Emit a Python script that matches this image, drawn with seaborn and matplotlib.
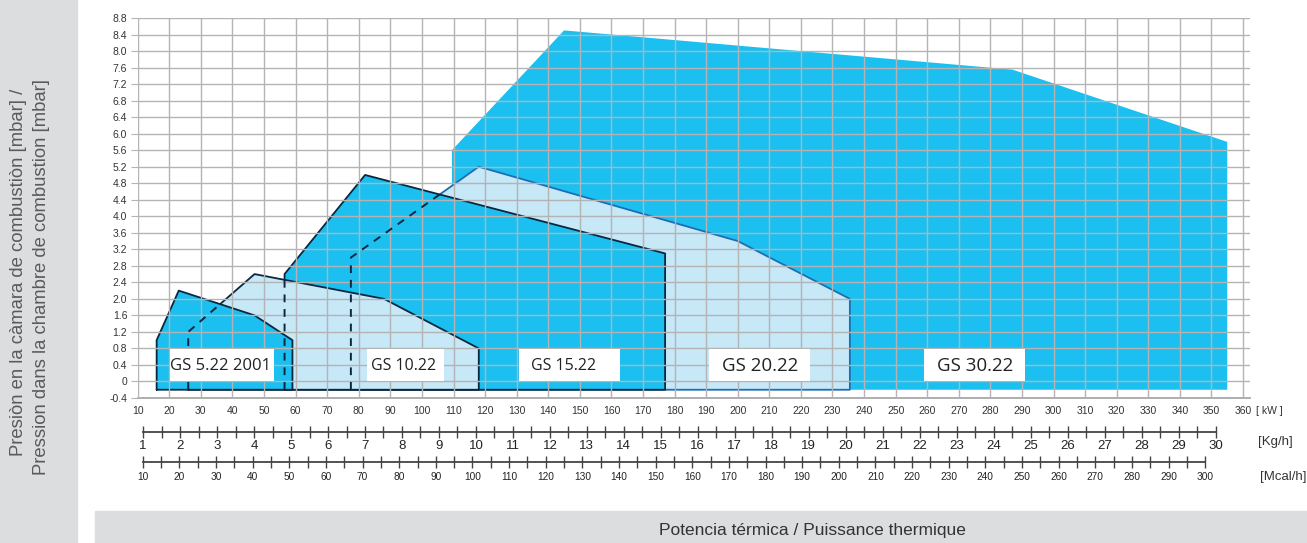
import numpy as np
import matplotlib
matplotlib.use("Agg")
import matplotlib.pyplot as plt
import seaborn as sns
from matplotlib.patches import Rectangle

# ---------------------------------------------------------
# data: working fields (kW vs mbar)
# ---------------------------------------------------------
gs30_kw = [109.5, 109.5, 145, 287, 355, 355]
gs30_mbar = [-0.2, 5.6, 8.5, 7.55, 5.8, -0.2]
gs20_kw = [77.5, 77.5, 118, 200, 235.5, 235.5]
gs20_mbar = [-0.2, 3.0, 5.2, 3.4, 2.0, -0.2]
gs15_kw = [56.5, 56.5, 82, 177, 177]
gs15_mbar = [-0.2, 2.6, 5.0, 3.1, -0.2]
gs10_kw = [26, 26, 47, 88, 118, 118]
gs10_mbar = [-0.2, 1.2, 2.6, 2.0, 0.8, -0.2]
gs5_kw = [16, 16, 23, 47, 59, 59]
gs5_mbar = [-0.2, 1.0, 2.2, 1.6, 1.0, -0.2]

labels = ["GS 30.22", "GS 20.22", "GS 15.22", "GS 10.22", "GS 5.22 2001"]

kw_ticks = list(range(10, 361, 10))
mbar_ticks = [round(v / 10, 1) for v in range(-4, 89, 4)]
kgh_ticks = list(range(1, 31))
mcal_ticks = list(range(10, 301, 10))

KW_PER_KGH = 11.71
KW_PER_MCAL = 1.16

# ---------------------------------------------------------
# style
# ---------------------------------------------------------
sns.set_style("white")
plt.rcParams['font.family'] = ['Liberation Sans', 'DejaVu Sans']

DARK = '#1bc0f0'
LIGHT = '#c6e8f7'
NAVY = '#0b2740'
BLUE = '#1d6db3'
GRID = '#b4b4b4'
PANEL = '#dcdddf'

W, H = 1307, 543
fig = plt.figure(figsize=(W / 100, H / 100), dpi=100)


def fx(px):
    return px / W


def fy(py):
    return 1 - py / H


# grey panels
fig.add_artist(Rectangle((0, 0), fx(77), 1, transform=fig.transFigure,
                         color=PANEL, zorder=0))
fig.add_artist(Rectangle((fx(95), 0), 1 - fx(95), 32 / H,
                         transform=fig.transFigure, color=PANEL, zorder=0))

x_left, x_right = 137.7, 1250
y_top, y_bot = 18, 398
xlim = (10, 362.2)
ax = fig.add_axes([fx(x_left), fy(y_bot), fx(x_right - x_left),
                   (y_bot - y_top) / H])

# --- polygons, bottom to top ---
layers = [
    (gs30_kw, gs30_mbar, DARK, None),
    (gs20_kw, gs20_mbar, LIGHT, BLUE),
    (gs15_kw, gs15_mbar, DARK, NAVY),
    (gs10_kw, gs10_mbar, LIGHT, NAVY),
    (gs5_kw, gs5_mbar, DARK, NAVY),
]
polys = []
for i, (xs, ys, fc, ec) in enumerate(layers):
    p = ax.fill(xs, ys, color=fc, lw=0, zorder=1 + i * 0.1)[0]
    polys.append(p)
    if ec:
        sns.lineplot(x=xs + [xs[0]], y=ys + [ys[0]], sort=False,
                     estimator=None, color=ec, lw=1.3, ax=ax,
                     zorder=1.05 + i * 0.1)

# hidden edges shown dashed (clipped to the field lying on top)
for lower, upper in [(1, 2), (2, 3), (3, 4)]:
    xs, ys = layers[lower][0], layers[lower][1]
    ln = ax.plot(xs, ys, color=NAVY, lw=1.4, ls=(0, (4, 3.5)), zorder=3)[0]
    ln.set_clip_path(polys[upper])

# --- label boxes ---
boxes = [(259.0, 291.0, 275.2, 13.5), (191.0, 222.9, 207.0, 13.5),
         (130.7, 162.7, 145.0, 11.5), (82.5, 107.0, 94.3, 11.5),
         (20.3, 53.2, 36.3, 12)]
for lab, (x0, x1, xc, fs) in zip(labels, boxes):
    ax.add_patch(Rectangle((x0, 0.0), x1 - x0, 0.79, facecolor='white',
                           edgecolor='none', zorder=4))
    ax.text(xc, 0.38, lab, ha='center', va='center', fontsize=fs,
            family=['Open Sans', 'DejaVu Sans'], color='#222222', zorder=5)

# --- axes / grid ---
ax.set_xlim(*xlim)
ax.set_ylim(-0.4, 8.8)
ax.set_xticks(kw_ticks)
ax.set_xticklabels([str(v) for v in kw_ticks])
ax.set_yticks(mbar_ticks)
ax.set_yticklabels(["0" if v == 0 else f"{v:.1f}" for v in mbar_ticks])
ax.set_axisbelow(False)
ax.grid(True, color=GRID, lw=1.0)
for s in ['top', 'right', 'left']:
    ax.spines[s].set_visible(False)
ax.spines['bottom'].set_color('#a8a8a8')
ax.spines['bottom'].set_linewidth(1.3)
ax.tick_params(axis='x', length=0, pad=5.5, labelsize=7.5, colors='#333333')
ax.tick_params(axis='y', length=4.8, width=0.8, color=GRID, pad=2.7,
               labelsize=7.5, labelcolor='#333333', left=True)
ax.set_xlabel('')
ax.set_ylabel('')

fig.text(fx(1269), fy(410.7), '[ kW ]', ha='center', va='center',
         fontsize=7.5, color='#333333')


# --- Kg/h and Mcal/h scales ---
def scale_axis(py, factor, major, minor, lo, hi, fs, pad):
    a = fig.add_axes([fx(x_left), fy(py), fx(x_right - x_left), 0.0005])
    a.set_facecolor('none')
    a.set_xlim(xlim[0] / factor, xlim[1] / factor)
    for s in ['top', 'right', 'left']:
        a.spines[s].set_visible(False)
    a.spines['bottom'].set_bounds(lo, hi)
    a.spines['bottom'].set_color('#444444')
    a.spines['bottom'].set_linewidth(1.3)
    a.set_xticks(major)
    a.set_xticklabels([str(v) for v in major])
    a.set_xticks(minor, minor=True)
    a.set_yticks([])
    a.tick_params(axis='x', which='both', direction='inout', length=8,
                  width=1.0, color='#444444', bottom=True)
    a.tick_params(axis='x', which='major', labelsize=fs, pad=pad,
                  labelcolor='#222222')
    return a


kgh_minor = [v + 0.5 for v in kgh_ticks[:-1]]
mcal_minor = [v + 5 for v in mcal_ticks[:-1]]
scale_axis(432, KW_PER_KGH, kgh_ticks, kgh_minor, 1, 30, 9.5, 1.5)
scale_axis(462, KW_PER_MCAL, mcal_ticks, mcal_minor, 10, 300, 7.3, 3.5)

fig.text(fx(1275), fy(442), '[Kg/h]', ha='center', va='center',
         fontsize=9.5, color='#333333')
fig.text(fx(1283), fy(477), '[Mcal/h]', ha='center', va='center',
         fontsize=9.5, color='#333333')

# --- axis titles ---
fig.text(fx(19), fy(272), 'Presiòn en la càmara de combustiòn [mbar] /',
         rotation=90, ha='center', va='center', fontsize=13.3,
         color='#5a5a5a')
fig.text(fx(41.5), fy(277), 'Pression dans la chambre de combustion [mbar]',
         rotation=90, ha='center', va='center', fontsize=13.3,
         color='#5a5a5a')
fig.text(fx(812), fy(530), 'Potencia térmica / Puissance thermique',
         ha='center', va='center', fontsize=12.5, color='#333333')

fig.savefig('out.png', dpi=100)
